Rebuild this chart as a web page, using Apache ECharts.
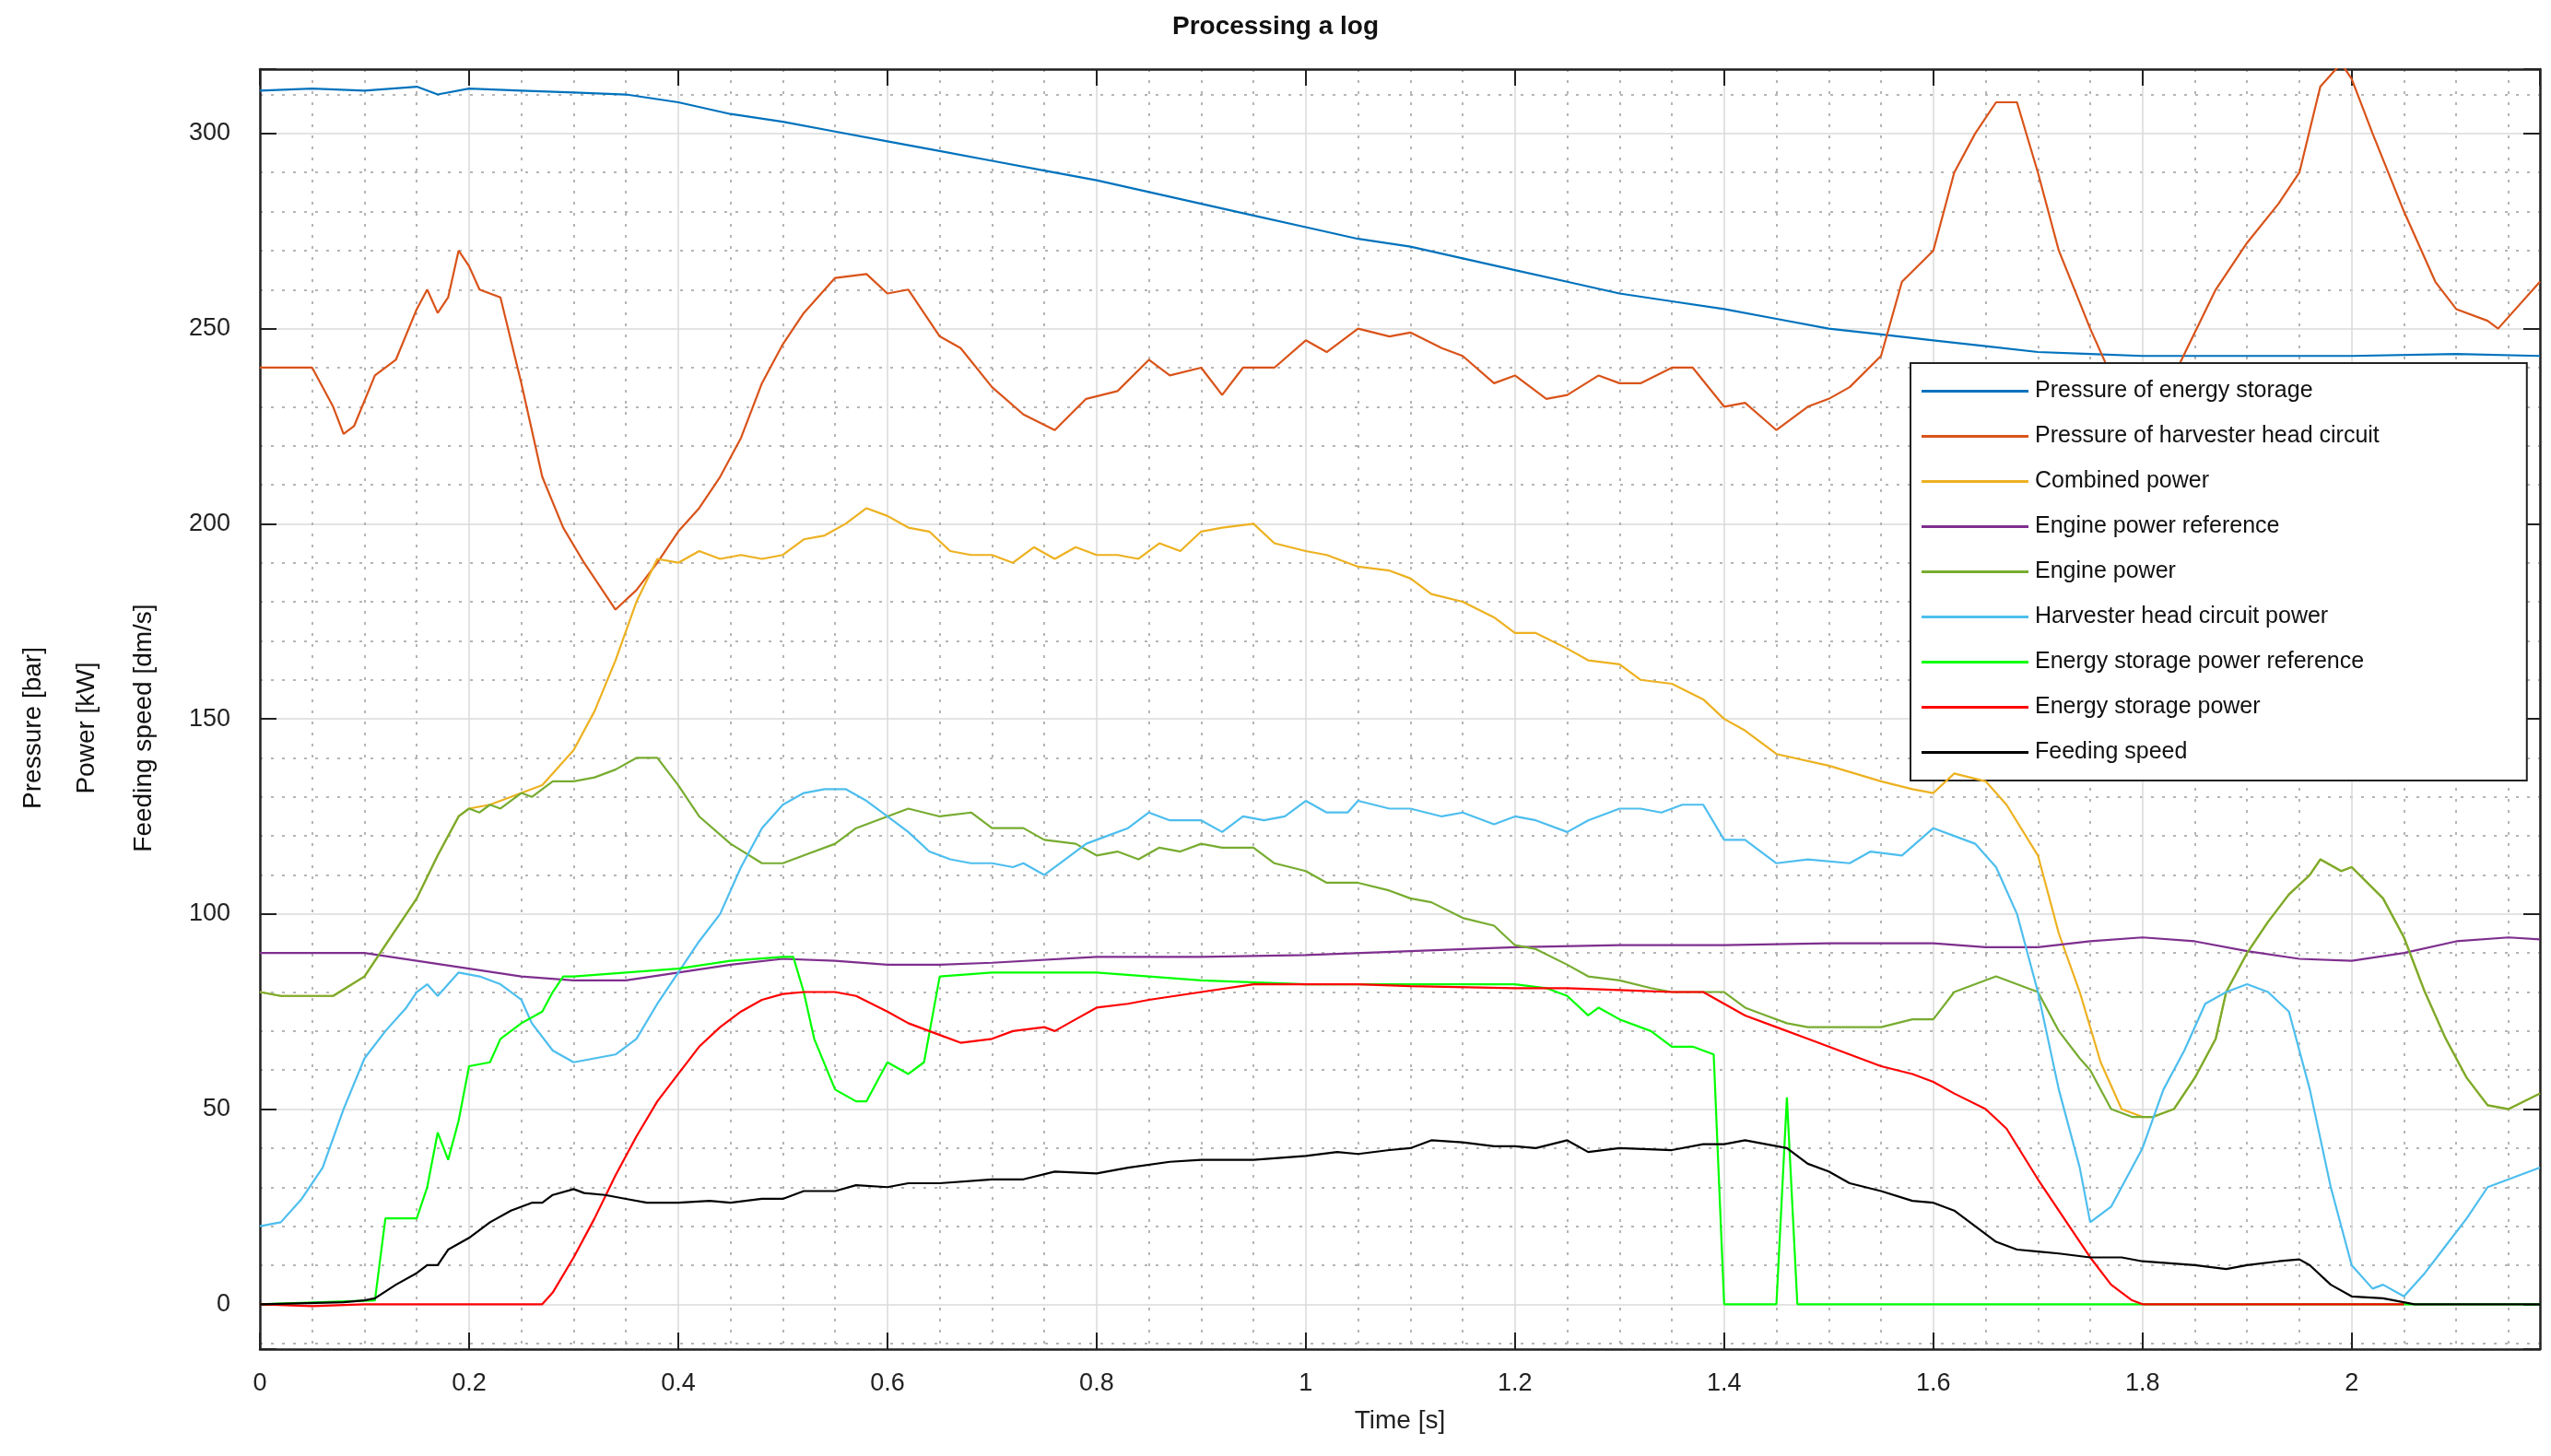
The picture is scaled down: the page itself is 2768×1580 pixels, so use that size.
<!DOCTYPE html>
<html>
<head>
<meta charset="utf-8">
<script src="https://cdn.jsdelivr.net/npm/echarts@6/dist/echarts.min.js"></script>
<style>html,body{margin:0;padding:0;background:#fff}#container{width:2768px;height:1580px}</style>
</head>
<body>
<div id="container"></div>
<script>
// values: [time s, value]
let storagePressure = [[0,311],[0.05,311.5],[0.1,311],[0.15,312],[0.17,310],[0.2,311.5],[0.25,311],[0.3,310.5],[0.35,310],[0.4,308],[0.45,305],[0.5,303],[0.55,300.5],[0.6,298],[0.65,295.5],[0.7,293],[0.75,290.5],[0.8,288],[0.85,285],[0.9,282],[0.95,279],[1.0,276],[1.05,273],[1.1,271],[1.15,268],[1.2,265],[1.25,262],[1.3,259],[1.35,257],[1.4,255],[1.45,252.5],[1.5,250],[1.55,248.5],[1.6,247],[1.65,245.5],[1.7,244],[1.75,243.5],[1.8,243],[1.9,243],[2.0,243],[2.1,243.5],[2.18,243]];
let headPressure = [[0,240],[0.05,240],[0.07,230],[0.08,223],[0.09,225],[0.11,238],[0.13,242],[0.15,255],[0.16,260],[0.17,254],[0.18,258],[0.19,270],[0.2,266],[0.21,260],[0.23,258],[0.25,236],[0.27,212],[0.29,199],[0.31,190],[0.33,182],[0.34,178],[0.36,183],[0.38,190],[0.4,198],[0.42,204],[0.44,212],[0.46,222],[0.48,236],[0.5,246],[0.52,254],[0.55,263],[0.58,264],[0.6,259],[0.62,260],[0.65,248],[0.67,245],[0.7,235],[0.73,228],[0.76,224],[0.79,232],[0.82,234],[0.85,242],[0.87,238],[0.9,240],[0.92,233],[0.94,240],[0.97,240],[1.0,247],[1.02,244],[1.05,250],[1.08,248],[1.1,249],[1.13,245],[1.15,243],[1.18,236],[1.2,238],[1.23,232],[1.25,233],[1.28,238],[1.3,236],[1.32,236],[1.35,240],[1.37,240],[1.4,230],[1.42,231],[1.45,224],[1.48,230],[1.5,232],[1.52,235],[1.55,243],[1.57,262],[1.6,270],[1.62,290],[1.64,300],[1.66,308],[1.68,308],[1.7,290],[1.72,270],[1.75,250],[1.78,232],[1.8,228],[1.83,238],[1.87,260],[1.9,272],[1.93,282],[1.95,290],[1.97,312],[1.99,318],[2.0,314],[2.02,300],[2.05,280],[2.08,262],[2.1,255],[2.13,252],[2.14,250],[2.18,262]];
let combinedPower = [[0,80],[0.02,79],[0.07,79],[0.1,84],[0.12,92],[0.15,104],[0.17,115],[0.19,125],[0.2,127],[0.22,128],[0.25,131],[0.27,133],[0.3,142],[0.32,152],[0.34,165],[0.36,180],[0.38,191],[0.4,190],[0.42,193],[0.44,191],[0.46,192],[0.48,191],[0.5,192],[0.52,196],[0.54,197],[0.56,200],[0.58,204],[0.6,202],[0.62,199],[0.64,198],[0.66,193],[0.68,192],[0.7,192],[0.72,190],[0.74,194],[0.76,191],[0.78,194],[0.8,192],[0.82,192],[0.84,191],[0.86,195],[0.88,193],[0.9,198],[0.92,199],[0.95,200],[0.97,195],[1.0,193],[1.02,192],[1.05,189],[1.08,188],[1.1,186],[1.12,182],[1.15,180],[1.18,176],[1.2,172],[1.22,172],[1.25,168],[1.27,165],[1.3,164],[1.32,160],[1.35,159],[1.38,155],[1.4,150],[1.42,147],[1.45,141],[1.5,138],[1.55,134],[1.58,132],[1.6,131],[1.62,136],[1.65,134],[1.67,128],[1.7,115],[1.72,95],[1.74,80],[1.76,62],[1.78,50],[1.8,48],[1.81,48],[1.83,50],[1.85,58],[1.87,68],[1.88,80],[1.9,90],[1.92,98],[1.94,105],[1.96,110],[1.97,114],[1.99,111],[2.0,112],[2.03,104],[2.05,94],[2.07,80],[2.09,68],[2.11,58],[2.13,51],[2.15,50],[2.18,54]];
let engineRef = [[0,90],[0.1,90],[0.15,88],[0.2,86],[0.25,84],[0.3,83],[0.35,83],[0.4,85],[0.45,87],[0.5,88.5],[0.55,88],[0.6,87],[0.65,87],[0.7,87.5],[0.8,89],[0.9,89],[1.0,89.5],[1.1,90.5],[1.2,91.5],[1.3,92],[1.4,92],[1.5,92.5],[1.6,92.5],[1.65,91.5],[1.7,91.5],[1.75,93],[1.8,94],[1.85,93],[1.9,90.5],[1.95,88.5],[2.0,88],[2.05,90],[2.1,93],[2.15,94],[2.18,93.5]];
let enginePower = [[0,80],[0.02,79],[0.07,79],[0.1,84],[0.12,92],[0.15,104],[0.17,115],[0.19,125],[0.2,127],[0.21,126],[0.22,128],[0.23,127],[0.25,131],[0.26,130],[0.28,134],[0.3,134],[0.32,135],[0.34,137],[0.36,140],[0.38,140],[0.4,133],[0.42,125],[0.45,118],[0.48,113],[0.5,113],[0.52,115],[0.55,118],[0.57,122],[0.6,125],[0.62,127],[0.65,125],[0.68,126],[0.7,122],[0.73,122],[0.75,119],[0.78,118],[0.8,115],[0.82,116],[0.84,114],[0.86,117],[0.88,116],[0.9,118],[0.92,117],[0.95,117],[0.97,113],[1.0,111],[1.02,108],[1.05,108],[1.08,106],[1.1,104],[1.12,103],[1.15,99],[1.18,97],[1.2,92],[1.22,91],[1.25,87],[1.27,84],[1.3,83],[1.33,81],[1.35,80],[1.38,80],[1.4,80],[1.42,76],[1.44,74],[1.46,72],[1.48,71],[1.5,71],[1.55,71],[1.58,73],[1.6,73],[1.62,80],[1.64,82],[1.66,84],[1.68,82],[1.7,80],[1.72,70],[1.74,63],[1.75,60],[1.77,50],[1.79,48],[1.81,48],[1.83,50],[1.85,58],[1.87,68],[1.88,80],[1.9,90],[1.92,98],[1.94,105],[1.96,110],[1.97,114],[1.99,111],[2.0,112],[2.03,104],[2.05,94],[2.07,80],[2.09,68],[2.11,58],[2.13,51],[2.15,50],[2.18,54]];
let headPower = [[0,20],[0.02,21],[0.04,27],[0.06,35],[0.08,50],[0.1,63],[0.12,70],[0.14,76],[0.15,80],[0.16,82],[0.17,79],[0.19,85],[0.21,84],[0.23,82],[0.25,78],[0.26,72],[0.28,65],[0.3,62],[0.32,63],[0.34,64],[0.36,68],[0.38,77],[0.4,85],[0.42,93],[0.44,100],[0.46,112],[0.48,122],[0.5,128],[0.52,131],[0.54,132],[0.56,132],[0.58,129],[0.6,125],[0.62,121],[0.64,116],[0.66,114],[0.68,113],[0.7,113],[0.72,112],[0.73,113],[0.75,110],[0.77,114],[0.79,118],[0.81,120],[0.83,122],[0.85,126],[0.87,124],[0.9,124],[0.92,121],[0.94,125],[0.96,124],[0.98,125],[1.0,129],[1.02,126],[1.04,126],[1.05,129],[1.08,127],[1.1,127],[1.13,125],[1.15,126],[1.18,123],[1.2,125],[1.22,124],[1.25,121],[1.27,124],[1.3,127],[1.32,127],[1.34,126],[1.36,128],[1.38,128],[1.4,119],[1.42,119],[1.45,113],[1.48,114],[1.52,113],[1.54,116],[1.57,115],[1.6,122],[1.62,120],[1.64,118],[1.66,112],[1.68,100],[1.7,80],[1.72,55],[1.74,35],[1.75,21],[1.77,25],[1.8,40],[1.82,55],[1.84,65],[1.86,77],[1.88,80],[1.9,82],[1.92,80],[1.94,75],[1.96,55],[1.98,30],[2.0,10],[2.02,4],[2.03,5],[2.05,2],[2.07,8],[2.09,15],[2.11,22],[2.13,30],[2.15,32],[2.18,35]];
let storageRef = [[0,0],[0.11,1],[0.12,22],[0.15,22],[0.16,30],[0.17,44],[0.18,37],[0.19,47],[0.2,61],[0.22,62],[0.23,68],[0.25,72],[0.27,75],[0.28,80],[0.29,84],[0.3,84],[0.35,85],[0.4,86],[0.45,88],[0.5,89],[0.51,89],[0.52,80],[0.53,68],[0.55,55],[0.57,52],[0.58,52],[0.6,62],[0.62,59],[0.635,62],[0.65,84],[0.7,85],[0.8,85],[0.85,84],[0.9,83],[1.0,82],[1.1,82],[1.2,82],[1.23,81],[1.25,79],[1.27,74],[1.28,76],[1.3,73],[1.33,70],[1.35,66],[1.37,66],[1.39,64],[1.4,0],[1.45,0],[1.46,53],[1.47,0],[2.18,0]];
let storagePower = [[0,0],[0.05,-0.5],[0.1,0],[0.27,0],[0.28,3],[0.3,12],[0.32,22],[0.34,33],[0.36,43],[0.38,52],[0.4,59],[0.42,66],[0.44,71],[0.46,75],[0.48,78],[0.5,79.5],[0.52,80],[0.55,80],[0.57,79],[0.6,75],[0.62,72],[0.65,69],[0.67,67],[0.7,68],[0.72,70],[0.75,71],[0.76,70],[0.78,73],[0.8,76],[0.83,77],[0.85,78],[0.9,80],[0.95,82],[1.0,82],[1.05,82],[1.1,81.5],[1.2,81],[1.25,81],[1.3,80.5],[1.35,80],[1.38,80],[1.4,77],[1.42,74],[1.45,71],[1.48,68],[1.5,66],[1.52,64],[1.55,61],[1.58,59],[1.6,57],[1.62,54],[1.65,50],[1.67,45],[1.7,32],[1.73,20],[1.75,12],[1.77,5],[1.79,1],[1.8,0],[2.05,0]];
let feedingSpeed = [[0,0],[0.08,0.5],[0.1,1],[0.11,1.5],[0.13,5],[0.15,8],[0.16,10],[0.17,10],[0.18,14],[0.2,17],[0.22,21],[0.24,24],[0.26,26],[0.27,26],[0.28,28],[0.3,29.5],[0.31,28.5],[0.33,28],[0.35,27],[0.37,26],[0.4,26],[0.43,26.5],[0.45,26],[0.48,27],[0.5,27],[0.52,29],[0.55,29],[0.57,30.5],[0.6,30],[0.62,31],[0.65,31],[0.7,32],[0.73,32],[0.76,34],[0.8,33.5],[0.83,35],[0.87,36.5],[0.9,37],[0.95,37],[1.0,38],[1.03,39],[1.05,38.5],[1.08,39.5],[1.1,40],[1.12,42],[1.15,41.5],[1.18,40.5],[1.2,40.5],[1.22,40],[1.25,42],[1.27,39],[1.3,40],[1.35,39.5],[1.38,41],[1.4,41],[1.42,42],[1.44,41],[1.46,40],[1.48,36],[1.5,34],[1.52,31],[1.55,29],[1.58,26.5],[1.6,26],[1.62,24],[1.64,20],[1.66,16],[1.68,14],[1.7,13.5],[1.72,13],[1.75,12],[1.78,12],[1.8,11],[1.85,10],[1.88,9],[1.9,10],[1.93,11],[1.95,11.5],[1.96,10],[1.98,5],[2.0,2],[2.03,1.5],[2.06,0],[2.18,0]];

let seriesNames = ['Pressure of energy storage', 'Pressure of harvester head circuit', 'Combined power', 'Engine power reference', 'Engine power', 'Harvester head circuit power', 'Energy storage power reference', 'Energy storage power', 'Feeding speed'];
let seriesData = [storagePressure, headPressure, combinedPower, engineRef, enginePower, headPower, storageRef, storagePower, feedingSpeed];
let colors = ['#0072BD', '#D95319', '#EDB120', '#7E2F8E', '#77AC30', '#4DBEEE', '#00FF00', '#FF0000', '#000000'];

let dom = document.getElementById("container");
let myChart = echarts.init(dom);
let font = 'Liberation Sans';

let majorLine = {show: true, lineStyle: {color: '#dadada', width: 1.5}};
let minorLine = {show: true, lineStyle: {color: '#b5b5b5', width: 2, type: [3, 9]}};
let frameLine = {show: true, onZero: false, lineStyle: {color: '#222', width: 2.5}};
let tick = {inside: true, length: 18, lineStyle: {color: '#222', width: 2}};

let option = {
    animation: false,
    backgroundColor: '#fff',
    color: colors,
    textStyle: {fontFamily: font},
    title: {
        text: 'Processing a log', left: 'center', top: 10,
        textStyle: {fontSize: 28, fontWeight: 'bold', color: '#111', fontFamily: font}
    },
    grid: {left: 282, right: 12, top: 75, bottom: 116},
    xAxis: [{
        type: 'value', min: 0, max: 2.18, interval: 0.2,
        name: 'Time [s]', nameLocation: 'middle', nameGap: 64,
        nameTextStyle: {fontSize: 28, color: '#222'},
        axisLine: frameLine,
        axisTick: tick,
        axisLabel: {fontSize: 27, color: '#222', margin: 24, showMaxLabel: false,
            formatter: v => Math.round(v * 10) / 10 + ''},
        splitLine: majorLine,
        minorTick: {show: false, splitNumber: 4},
        minorSplitLine: minorLine
    }, {
        type: 'value', min: 0, max: 2.18, interval: 0.2, position: 'top',
        axisLine: frameLine, axisLabel: {show: false}, splitLine: {show: false},
        axisTick: tick
    }],
    yAxis: [{
        type: 'value', min: -11.5, max: 316.5, splitNumber: 5,
        axisLine: frameLine,
        axisTick: tick,
        axisLabel: {fontSize: 27, color: '#222', margin: 32,
            formatter: v => (Math.abs(v % 50) < 1e-6 ? v + '' : '')},
        splitLine: majorLine,
        minorTick: {show: false, splitNumber: 5},
        minorSplitLine: minorLine
    }, {
        type: 'value', min: -11.5, max: 316.5, splitNumber: 5, position: 'right',
        axisLine: frameLine, axisLabel: {show: false}, splitLine: {show: false},
        axisTick: tick
    }],
    legend: {
        orient: 'vertical', left: 2073, top: 394,
        backgroundColor: '#fff', borderColor: '#222', borderWidth: 2,
        padding: [18, 160, 18, 12],
        itemWidth: 116, itemHeight: 3, itemGap: 24, icon: 'rect',
        textStyle: {fontSize: 25, color: '#111', fontFamily: font, padding: [0, 0, 0, 2], height: 22},
        data: seriesNames
    },
    graphic: [
        {type: 'text', left: 22, top: 'middle', rotation: Math.PI / 2,
            style: {text: 'Pressure [bar]', font: '28px ' + font, fill: '#111'}},
        {type: 'text', left: 80, top: 'middle', rotation: Math.PI / 2,
            style: {text: 'Power [kW]', font: '28px ' + font, fill: '#111'}},
        {type: 'text', left: 142, top: 'middle', rotation: Math.PI / 2,
            style: {text: 'Feeding speed [dm/s]', font: '28px ' + font, fill: '#111'}}
    ],
    series: seriesNames.map((name, i) => ({
        name: name,
        type: 'line',
        data: seriesData[i],
        showSymbol: false,
        clip: true,
        lineStyle: {width: 2.2, color: colors[i]},
        itemStyle: {color: colors[i]},
        z: 2 + i
    }))
};

myChart.setOption(option);
</script>
</body>
</html>
